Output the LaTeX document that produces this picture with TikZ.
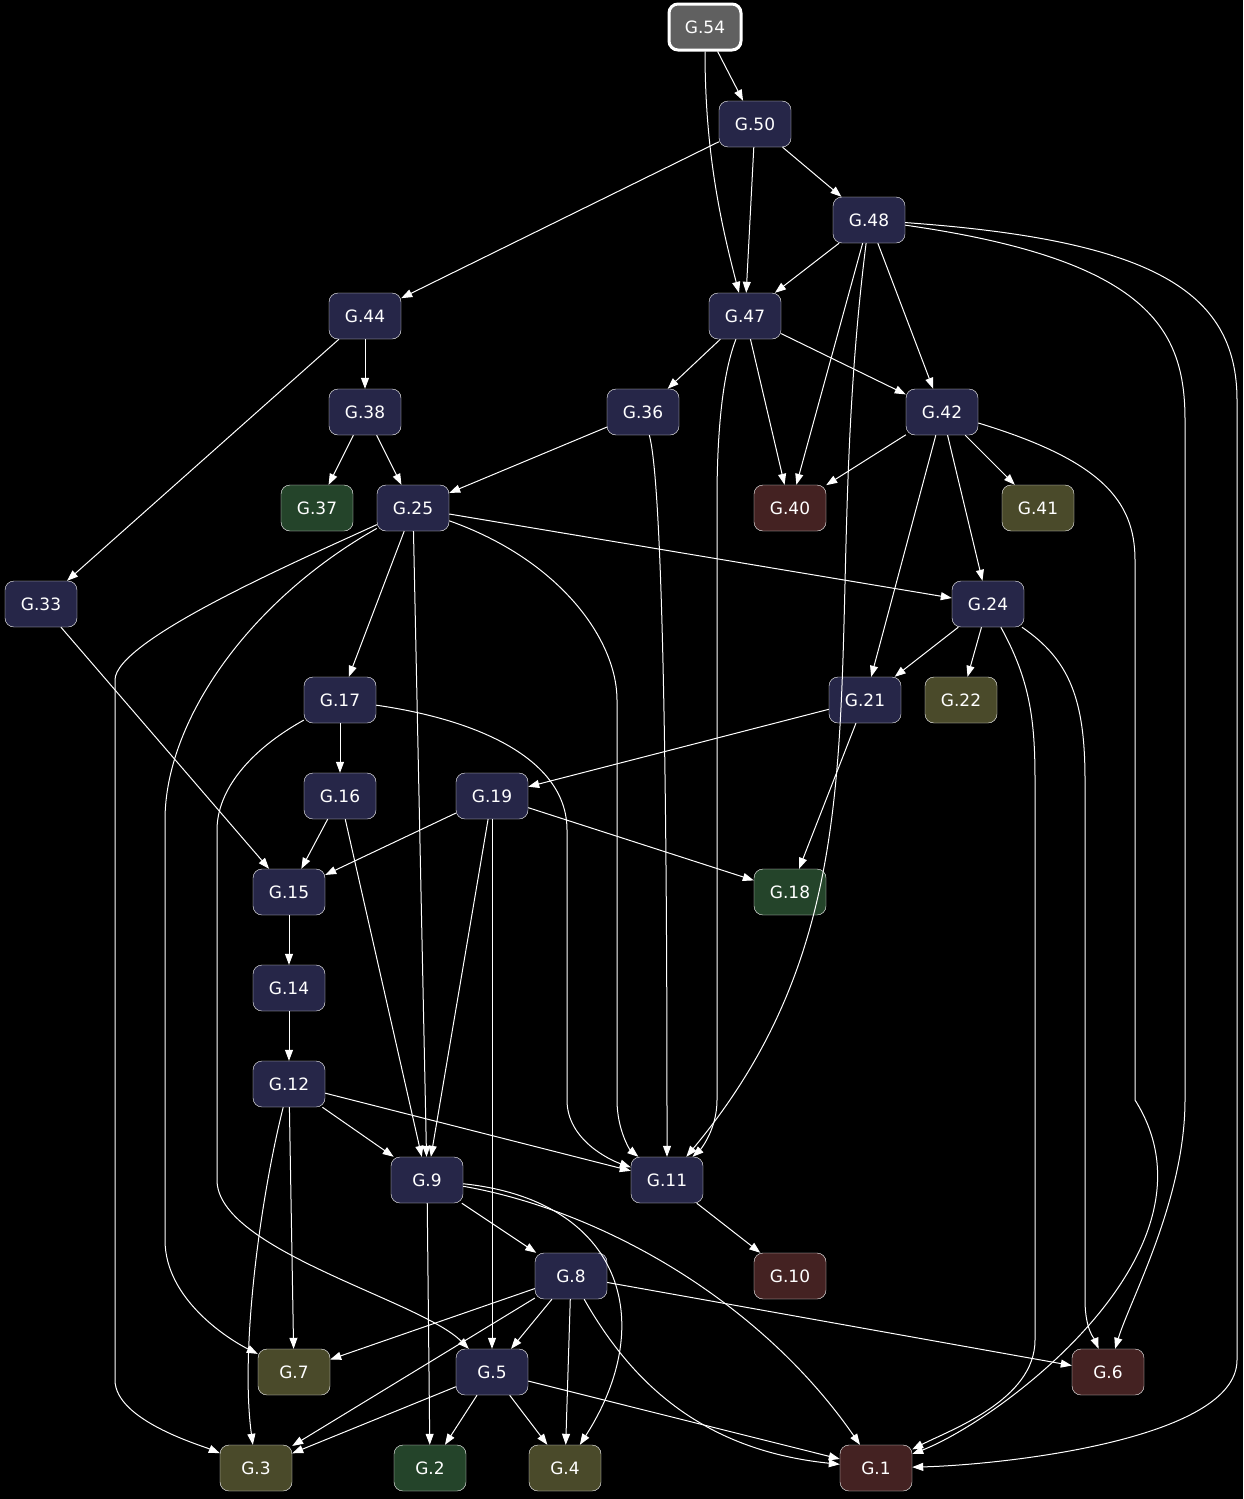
\documentclass[tikz,border=0pt]{standalone}
\usepackage{fontspec}
\setmainfont{DejaVu Sans}
\usetikzlibrary{arrows.meta}
\definecolor{navy}{HTML}{262648}
\definecolor{leaf}{HTML}{24442A}
\definecolor{olive}{HTML}{4A4A2A}
\definecolor{wine}{HTML}{442222}
\definecolor{root}{HTML}{606060}
\tikzset{
  box/.style={draw=white, rounded corners=9pt, minimum width=72pt, minimum height=46pt,
    text=white, font=\fontsize{17}{20}\selectfont, fill=navy, inner sep=0pt},
  e/.style={draw=white, line width=1pt, -{Triangle[length=11pt,width=8pt]}},
}
\begin{document}
\begin{tikzpicture}[x=1pt,y=-1pt]

\fill[black] (0,0) rectangle (1243,1499);
\useasboundingbox (0,0) rectangle (1243,1499);

\node[box, fill=root, line width=3pt] (g54) at (705,27) {G.54};
\node[box] (g50) at (755,124) {G.50};
\node[box] (g48) at (869,220) {G.48};
\node[box] (g44) at (365,316) {G.44};
\node[box] (g47) at (745,316) {G.47};
\node[box] (g38) at (365,412) {G.38};
\node[box] (g36) at (643,412) {G.36};
\node[box] (g42) at (942,412) {G.42};
\node[box, fill=leaf] (g37) at (317,508) {G.37};
\node[box] (g25) at (413,508) {G.25};
\node[box, fill=wine] (g40) at (790,508) {G.40};
\node[box, fill=olive] (g41) at (1038,508) {G.41};
\node[box] (g33) at (41,604) {G.33};
\node[box] (g24) at (988,604) {G.24};
\node[box] (g17) at (340,700) {G.17};
\node[box] (g21) at (865,700) {G.21};
\node[box, fill=olive] (g22) at (961,700) {G.22};
\node[box] (g16) at (340,796) {G.16};
\node[box] (g19) at (492,796) {G.19};
\node[box] (g15) at (289,892) {G.15};
\node[box, fill=leaf] (g18) at (790,892) {G.18};
\node[box] (g14) at (289,988) {G.14};
\node[box] (g12) at (289,1084) {G.12};
\node[box] (g9) at (427,1180) {G.9};
\node[box] (g11) at (667,1180) {G.11};
\node[box] (g8) at (571,1276) {G.8};
\node[box, fill=wine] (g10) at (790,1276) {G.10};
\node[box, fill=olive] (g7) at (294,1372) {G.7};
\node[box] (g5) at (492,1372) {G.5};
\node[box, fill=wine] (g6) at (1108,1372) {G.6};
\node[box, fill=olive] (g3) at (256,1468) {G.3};
\node[box, fill=leaf] (g2) at (430,1468) {G.2};
\node[box, fill=olive] (g4) at (565,1468) {G.4};
\node[box, fill=wine] (g1) at (876,1468) {G.1};

% straight edges
\foreach \a/\b in {g54/g50, g50/g47, g50/g48, g50/g44, g48/g47, g48/g40, g48/g42,
  g44/g38, g44/g33, g47/g36, g47/g42, g47/g40, g38/g37, g38/g25, g36/g25,
  g42/g40, g42/g41, g42/g24, g42/g21, g25/g24, g25/g17, g25/g9,
  g24/g21, g24/g22, g17/g16, g21/g19, g21/g18, g16/g15, g16/g9,
  g19/g15, g19/g18, g19/g9, g19/g5, g33/g15, g15/g14, g14/g12,
  g12/g9, g12/g11, g12/g7, g9/g8, g9/g2, g11/g10,
  g8/g7, g8/g5, g8/g4, g8/g3, g8/g6, g5/g3, g5/g2, g5/g4, g5/g1}
  \draw[e] (\a) -- (\b);

% curved edges
\draw[e] (g54) .. controls (705,150) and (720,220) .. (g47);
\draw[e] (g48) .. controls (815,650) and (900,900) .. (g11);
\draw[e] (g48) .. controls (1150,260) and (1185,330) .. (1185,420) -- (1185,1100) .. controls (1185,1200) and (1130,1300) .. (g6);
\draw[e] (g48) .. controls (1150,240) and (1237,290) .. (1237,400) -- (1237,1360) .. controls (1237,1440) and (1000,1465) .. (g1);
\draw[e] (g42) .. controls (1100,460) and (1135,500) .. (1135,560) -- (1135,1100) .. controls (1230,1250) and (1000,1420) .. (g1);
\draw[e] (g47) .. controls (720,380) and (717,450) .. (717,500) -- (717,1100) .. controls (717,1130) and (700,1150) .. (g11);
\draw[e] (g36) .. controls (667,500) and (667,1000) .. (g11);
\draw[e] (g25) .. controls (300,560) and (115,640) .. (115,680) -- (115,1380) .. controls (115,1420) and (200,1445) .. (g3);
\draw[e] (g25) .. controls (250,600) and (165,720) .. (165,820) -- (165,1240) .. controls (165,1300) and (230,1340) .. (g7);
\draw[e] (g25) .. controls (560,560) and (617,640) .. (617,700) -- (617,1100) .. controls (617,1130) and (630,1150) .. (g11);
\draw[e] (g17) .. controls (480,720) and (567,760) .. (567,830) -- (567,1100) .. controls (567,1140) and (610,1160) .. (g11);
\draw[e] (g17) .. controls (250,750) and (217,790) .. (217,830) -- (217,1180) .. controls (217,1250) and (420,1300) .. (g5);
\draw[e] (g24) .. controls (1030,680) and (1035,720) .. (1035,780) -- (1035,1340) .. controls (1035,1400) and (950,1430) .. (g1);
\draw[e] (g24) .. controls (1070,660) and (1085,700) .. (1085,780) -- (1085,1300) .. controls (1085,1330) and (1095,1340) .. (g6);
\draw[e] (g9) .. controls (620,1200) and (660,1320) .. (g4);
\draw[e] (g9) .. controls (600,1210) and (760,1300) .. (g1);
\draw[e] (g8) .. controls (630,1380) and (700,1450) .. (g1);
\draw[e] (g12) .. controls (260,1200) and (240,1350) .. (g3);

\end{tikzpicture}
\end{document}
